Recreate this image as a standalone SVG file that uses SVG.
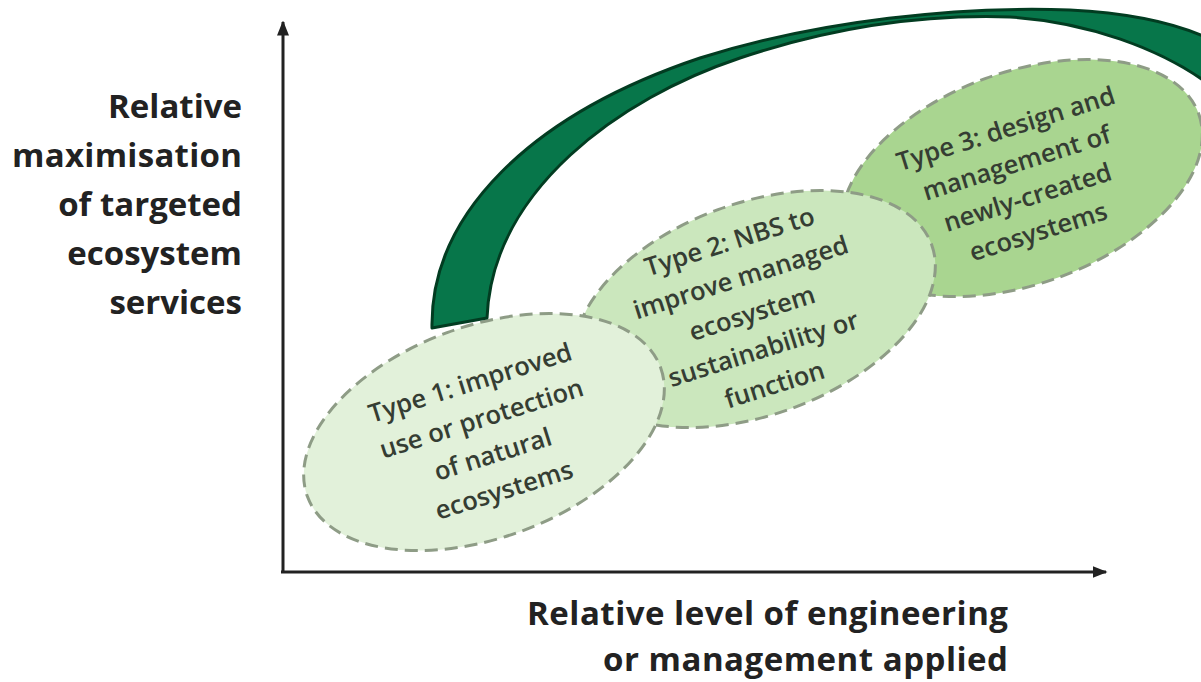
<svg xmlns="http://www.w3.org/2000/svg" width="1201" height="682" viewBox="0 0 1201 682">
<defs>
<style>
.axis{stroke:#222;stroke-width:3;fill:none}
.lbl{font-family:"Open Sans","Liberation Sans",sans-serif;font-weight:700;font-size:33px;fill:#222}
.ell{stroke:#8e9c86;stroke-width:3;stroke-dasharray:13 7}
.nt{font-family:"Open Sans","Liberation Sans",sans-serif;font-weight:600;font-size:25.5px;fill:#353d33;text-anchor:middle}
.band{fill:#07764a;stroke:#023c21;stroke-width:3;stroke-linejoin:round}
</style>
<marker id="ah" viewBox="0 0 10 10" refX="9" refY="5" markerWidth="5" markerHeight="5" orient="auto" markerUnits="strokeWidth">
<path d="M0,1 L10,5 L0,9 Z" fill="#222"/>
</marker>
</defs>
<rect width="1201" height="682" fill="#fff"/>

<g id="axis-labels">
<text class="lbl" text-anchor="end" x="242" y="118">Relative</text>
<text class="lbl" text-anchor="end" x="242" y="167" textLength="230">maximisation</text>
<text class="lbl" text-anchor="end" x="242" y="216">of targeted</text>
<text class="lbl" text-anchor="end" x="242" y="265">ecosystem</text>
<text class="lbl" text-anchor="end" x="242" y="314">services</text>
<text class="lbl" text-anchor="end" x="1008" y="625" textLength="481">Relative level of engineering</text>
<text class="lbl" text-anchor="end" x="1008" y="671" textLength="405">or management applied</text>
</g>

<g id="type3">
<ellipse class="ell" cx="1022" cy="178" rx="188" ry="106" transform="rotate(-20 1022 178)" fill="#a9d590"/>
<g transform="translate(1022 180) rotate(-17.5)">
<text class="nt" x="0" y="-45">Type 3: design and</text>
<text class="nt" x="0" y="-9">management of</text>
<text class="nt" x="0" y="27">newly-created</text>
<text class="nt" x="0" y="63">ecosystems</text>
</g>
</g>

<g id="type2">
<ellipse class="ell" cx="755" cy="309" rx="188" ry="106" transform="rotate(-20 755 309)" fill="#cbe7bd"/>
<g transform="translate(752 313) rotate(-17.5)">
<text class="nt" x="0" y="-66">Type 2: NBS to</text>
<text class="nt" x="0" y="-28.5">improve managed</text>
<text class="nt" x="0" y="9">ecosystem</text>
<text class="nt" x="0" y="46.5">sustainability or</text>
<text class="nt" x="0" y="84">function</text>
</g>
</g>

<g id="type1">
<ellipse class="ell" cx="484" cy="432" rx="188" ry="106" transform="rotate(-20 484 432)" fill="#e2f1da"/>
<g transform="translate(487 436) rotate(-17.5)">
<text class="nt" x="0" y="-47">Type 1: improved</text>
<text class="nt" x="0" y="-9.5">use or protection</text>
<text class="nt" x="0" y="28">of natural</text>
<text class="nt" x="0" y="65.5">ecosystems</text>
</g>
</g>

<g id="connectors">
<path class="axis" d="M283,572 L283,22" marker-end="url(#ah)"/>
<path class="axis" d="M281,572 L1106,572" marker-end="url(#ah)"/>
<path class="band" d="M432,328 C430,215 530,115 700,58 C820,20 960,6 1070,10 C1130,13 1175,24 1203,36 L1203,80 C1160,50 1090,22 1010,17 C920,14 830,28 740,58 C620,98 492,190 487,318 Z"/>
</g>
</svg>
